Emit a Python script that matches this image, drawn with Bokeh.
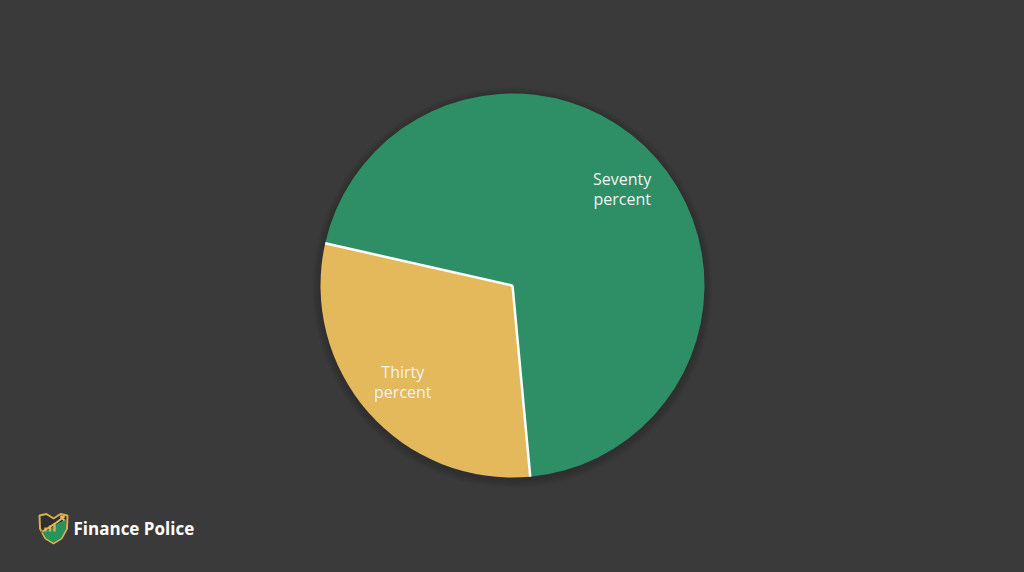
import numpy as np
from bokeh.plotting import figure
from bokeh.models import ColumnDataSource
from bokeh.core.properties import value
from bokeh.embed import file_html
from bokeh.resources import INLINE

# ---- data ----
categories = ["Seventy\npercent", "Thirty\npercent"]
values = [70, 30]
colors = ["#2e8f66", "#e3b95b"]
brand = "Finance Police"

BG = "#3a3a3a"
W, H = 1008, 556

p = figure(width=W, height=H, x_range=(0, W), y_range=(0, H),
           output_backend="svg", toolbar_location=None,
           background_fill_color=BG, border_fill_color=BG,
           outline_line_color=None, min_border=0)
p.axis.visible = False
p.grid.visible = False

cx, cy, R = 512, H - 285, 192

# shadow
for i in range(4):
    p.circle(x=cx, y=cy - 2, radius=R + 2 + 2 * i, fill_color="black",
             fill_alpha=0.04, line_color=None)

# angles from data (counter-clockwise); yellow slice anchored around 221 deg
vals = np.array(values, dtype=float)
frac = vals / vals.sum()
span = frac * 2 * np.pi
yellow_mid = np.deg2rad(221.3)
y_start = yellow_mid - span[1] / 2
y_end = y_start + span[1]
starts = [y_end, y_start]
ends = [y_end + span[0], y_end]
mids = [(s + e) / 2 for s, e in zip(starts, ends)]

src = ColumnDataSource(dict(
    start=starts, end=ends, color=colors, label=categories,
    lx=[cx + 146 * np.cos(m) for m in mids],
    ly=[cy + 146 * np.sin(m) for m in mids],
))
p.wedge(x=cx, y=cy, radius=R, start_angle="start", end_angle="end",
        fill_color="color", line_color=None, source=src)

# white separators on slice boundaries
bounds = [y_start, y_end]
p.segment(x0=[cx] * 2, y0=[cy] * 2,
          x1=[cx + R * np.cos(b) for b in bounds],
          y1=[cy + R * np.sin(b) for b in bounds],
          line_color="white", line_width=2.5)

p.text(x="lx", y="ly", text="label", source=src, text_align="center",
       text_baseline="middle", text_color="#f2f2f2", text_font_size="16px",
       text_font=value("Open Sans"), text_line_height=0.88)

# ---- logo ----
def pg(xs, ys):
    return list(xs), [H - y for y in ys]

sx, sy = pg([39, 46, 53, 60, 67, 66.5, 61, 53, 45, 39.5],
            [515, 513.5, 518, 513.5, 515, 528, 538, 543, 538, 528])
p.patch(sx, sy, fill_color="#2f2f2f", line_color="#d9ae4f", line_width=2)
gx, gy = pg([40.5, 50, 57, 65.5, 65.5, 60.5, 53, 45.5, 40.5],
            [533, 528, 523, 519, 528, 537.5, 542, 537.5, 529])
p.patch(gx, gy, fill_color="#27935f", line_color=None)
bx, by = pg([45, 49.5, 54], [527, 525, 523])
p.vbar(x=bx, top=by, bottom=[H - 531] * 3, width=2.5, fill_color="#d9ae4f",
       line_color=None)
ax_, ay_ = pg([42, 50, 56, 64], [531, 526, 522, 516])
p.line(ax_, ay_, line_color="#e3b95b", line_width=2)
tx, ty = pg([64, 60, 64], [520, 516, 516])
p.line(tx, ty, line_color="#e3b95b", line_width=2)

lx, ly = pg([73], [528])
p.text(x=lx, y=ly, text=[brand], text_align="left", text_baseline="middle",
       text_color="#ffffff", text_font_size="17px", text_font_style="bold",
       text_font=value("Open Sans"))

html = file_html(p, INLINE)
html = html.replace("<head>", "<head><style>html,body{background:%s;}</style>" % BG, 1)
open("out.html", "w").write(html)
